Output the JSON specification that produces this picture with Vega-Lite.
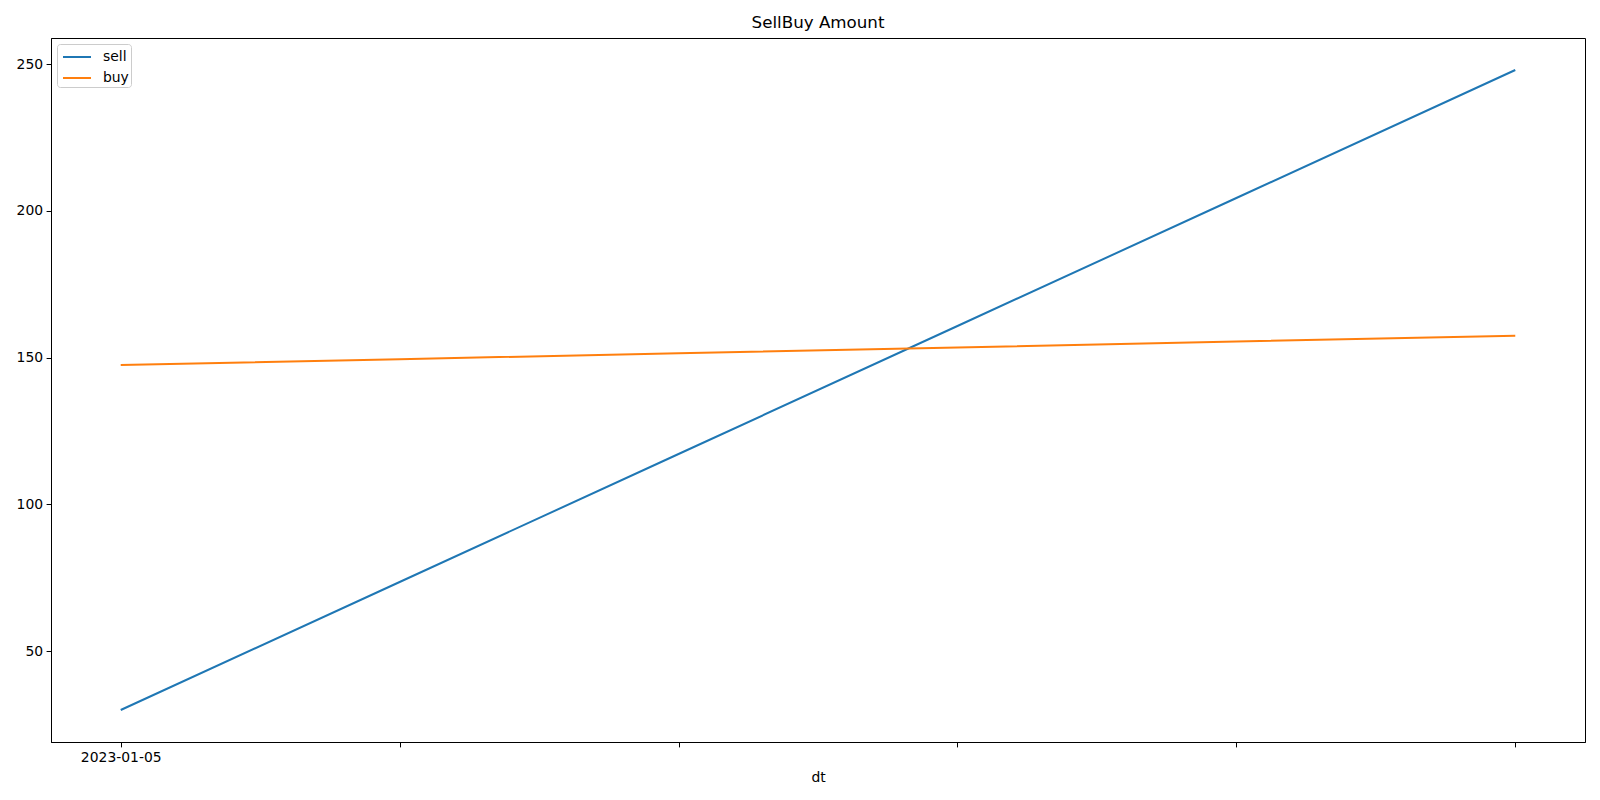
{
  "$schema": "https://vega.github.io/schema/vega-lite/v6.json",
  "autosize": "none",
  "width": 1534,
  "height": 704,
  "padding": {"left": 51, "top": 38, "right": 15, "bottom": 58},
  "background": "white",
  "title": {"text": "SellBuy Amount", "font": "DejaVu Sans", "fontSize": 16.7, "fontWeight": "normal", "color": "black", "anchor": "middle", "offset": 6},
  "config": {
    "view": {"stroke": "black", "strokeWidth": 1},
    "font": "DejaVu Sans",
    "axis": {"labelFont": "DejaVu Sans", "titleFont": "DejaVu Sans", "labelFontSize": 13.9, "titleFontSize": 13.9, "titleFontWeight": "normal", "labelColor": "black", "titleColor": "black", "tickColor": "black", "domainColor": "black", "tickSize": 4.9, "labelPadding": 3.5, "grid": false, "tickWidth": 1, "domainWidth": 1}
  },
  "data": {"values": [
    {"dt": "2023-01-05", "series": "sell", "amount": 30},
    {"dt": "2023-01-06", "series": "sell", "amount": 73.6},
    {"dt": "2023-01-07", "series": "sell", "amount": 117.2},
    {"dt": "2023-01-08", "series": "sell", "amount": 160.8},
    {"dt": "2023-01-09", "series": "sell", "amount": 204.4},
    {"dt": "2023-01-10", "series": "sell", "amount": 248},
    {"dt": "2023-01-05", "series": "buy", "amount": 147.5},
    {"dt": "2023-01-06", "series": "buy", "amount": 149.5},
    {"dt": "2023-01-07", "series": "buy", "amount": 151.5},
    {"dt": "2023-01-08", "series": "buy", "amount": 153.5},
    {"dt": "2023-01-09", "series": "buy", "amount": 155.5},
    {"dt": "2023-01-10", "series": "buy", "amount": 157.5}
  ]},
  "mark": {"type": "line", "strokeWidth": 2},
  "encoding": {
    "x": {"field": "dt", "type": "ordinal", "scale": {"type": "point", "padding": 0.25}, "axis": {"title": "dt", "labelAngle": 0, "labelExpr": "datum.value == '2023-01-05' ? datum.label : ''", "titlePadding": 6}},
    "y": {"field": "amount", "type": "quantitative", "scale": {"domain": [19.1, 258.9], "nice": false, "zero": false}, "axis": {"title": null, "values": [50, 100, 150, 200, 250]}},
    "color": {"field": "series", "type": "nominal", "scale": {"domain": ["sell", "buy"], "range": ["#1f77b4", "#ff7f0e"]}, "legend": {"title": null, "orient": "top-left", "offset": 6, "symbolType": "M-1.4,0H1.4", "symbolSize": 400, "symbolStrokeWidth": 2, "symbolOffset": 7, "labelFontSize": 13.9, "labelFont": "DejaVu Sans", "labelColor": "black", "strokeColor": "#cccccc", "fillColor": "white", "cornerRadius": 3, "padding": 2, "rowPadding": 3, "labelOffset": 15}}
  }
}
